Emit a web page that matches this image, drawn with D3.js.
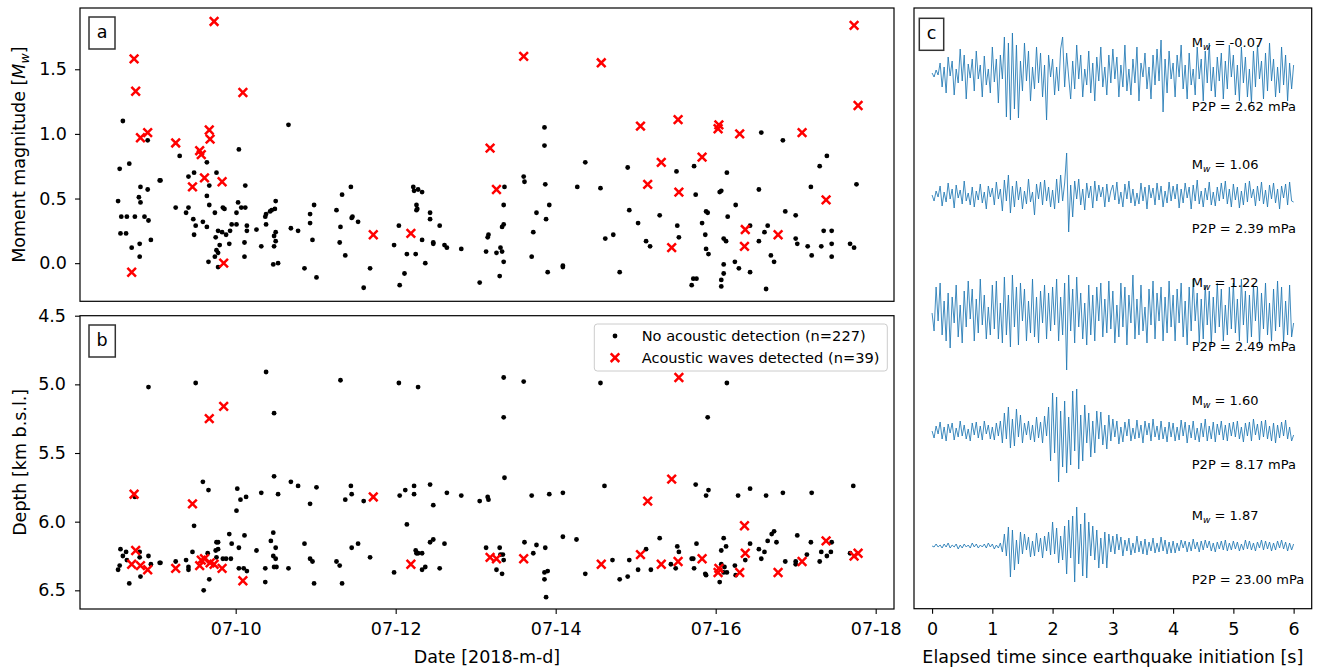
<!DOCTYPE html>
<html>
<head>
<meta charset="utf-8">
<script src="https://cdn.jsdelivr.net/npm/d3@7/dist/d3.min.js"></script>
<style>
body { margin: 0; background: #fff; }
svg { display: block; font-family: "DejaVu Sans", sans-serif; }
</style>
</head>
<body>
<div id="chart"></div>
<script>
// Times are decimal days of July 2018 (e.g. 9.5 = 07-09 12:00)

// events without acoustic detection
var magDay = [8.59,8.55,8.67,8.53,8.57,8.64,8.56,8.63,8.70,8.74,8.81,8.79,8.81,8.86,8.91,8.90,8.94,8.80,8.80,8.90,
  9.05,9.06,9.25,9.30,9.38,9.41,9.41,9.48,9.47,9.50,9.48,9.59,9.64,9.64,9.64,9.67,9.67,9.76,9.74,9.84,
  9.86,9.78,9.75,9.80,9.76,9.78,9.74,9.66,9.78,9.83,9.88,9.93,9.92,9.95,10.01,10.01,10.03,10.07,10.12,10.12,
  10.04,10.14,10.14,10.11,10.11,10.26,10.32,10.38,10.37,10.38,10.43,10.45,10.49,10.50,10.48,10.50,10.50,10.48,10.47,10.53,
  10.66,10.69,10.78,10.86,10.93,10.93,10.98,10.96,11.01,11.26,11.33,11.31,11.30,11.37,11.44,11.45,11.46,11.53,
  11.68,11.60,12.04,11.98,12.14,12.11,12.05,12.22,12.23,12.28,12.33,12.26,12.27,12.26,12.25,12.33,12.37,12.43,12.43,12.47,
  12.47,12.55,12.61,12.64,12.82,13.05,13.13,13.15,13.16,13.26,13.31,13.33,13.30,13.35,13.33,13.35,13.35,13.36,13.60,13.61,
  13.72,13.76,13.70,13.86,13.86,13.87,13.92,13.88,13.90,14.09,14.09,14.27,14.37,14.56,14.62,14.72,
  14.80,14.90,14.92,15.03,15.13,15.18,15.30,15.51,15.52,15.54,15.73,15.75,15.70,15.72,15.76,15.83,15.87,15.88,15.90,15.88,
  15.91,16.05,16.07,16.14,16.15,16.10,16.13,16.10,16.10,16.07,16.07,16.25,16.24,16.29,16.43,16.43,16.54,16.57,16.54,16.61,
  16.65,16.69,16.73,16.63,16.84,16.87,17.00,17.00,17.02,17.15,17.20,17.19,17.30,17.39,17.32,17.35,17.45,17.45,17.45,17.68,
  17.73,17.76];
var magValue = [1.10,0.73,0.77,0.48,0.36,0.36,0.23,0.23,0.12,0.36,0.59,0.51,0.47,0.36,0.33,0.57,0.18,0.15,0.05,0.95,
  0.64,0.64,0.43,0.83,0.39,0.43,0.67,0.70,0.34,0.29,0.22,0.32,0.28,0.52,0.78,0.60,0.45,0.70,0.39,0.43,
  0.42,0.25,0.20,0.14,0.10,0.08,0.05,0.01,-0.03,0.24,0.22,0.25,0.15,0.30,0.30,0.39,0.47,0.43,0.43,0.60,
  0.88,0.29,0.25,0.16,0.05,0.26,0.13,0.30,0.36,0.38,0.40,0.41,0.42,0.48,0.21,0.24,0.17,0.13,-0.01,0.00,
  1.07,0.27,0.25,-0.04,0.38,0.31,0.45,0.18,-0.11,0.41,0.53,0.28,0.16,0.06,0.59,0.35,0.36,0.32,
  -0.04,-0.19,0.29,0.14,0.07,-0.08,-0.17,0.59,0.56,0.57,0.55,0.45,0.42,0.41,0.07,0.18,0.00,0.39,0.34,0.16,
  0.15,0.29,0.14,0.12,0.11,-0.15,0.09,0.20,0.22,0.08,0.12,0.09,-0.10,0.01,0.28,0.30,0.45,0.59,0.67,0.63,
  0.24,0.39,0.05,1.05,0.91,0.61,0.45,0.34,-0.07,-0.02,-0.03,0.59,0.78,0.58,0.19,0.22,
  -0.07,0.74,0.41,0.31,0.17,0.13,0.37,0.71,0.29,0.20,0.75,0.53,-0.17,-0.12,-0.12,0.31,0.22,0.40,0.39,0.11,
  0.07,0.55,0.56,0.70,0.36,0.19,0.17,-0.01,-0.08,-0.13,-0.18,0.45,0.01,-0.04,0.29,-0.07,0.57,1.01,0.17,0.24,
  0.29,0.06,0.01,-0.20,0.95,0.40,0.37,0.19,0.15,0.13,0.06,0.59,0.75,0.83,0.13,0.25,0.25,0.15,0.05,0.15,
  0.12,0.61];

// events without acoustic detection
var depthDay = [8.91,9.50,10.38,10.48,11.31,8.74,9.59,9.66,9.48,10.02,10.01,10.06,10.13,10.32,10.48,10.53,10.69,10.78,10.93,11.01,
  11.37,11.45,11.44,8.56,8.63,8.59,8.55,8.53,8.64,8.67,8.80,8.80,8.81,8.91,8.94,9.05,9.06,9.25,9.38,9.41,
  9.41,9.46,9.60,9.67,9.65,9.76,9.78,9.78,9.75,9.76,9.84,9.88,9.94,9.92,9.95,10.04,10.11,10.04,10.10,10.14,
  10.26,10.37,10.37,10.44,10.47,10.50,10.47,10.50,10.48,10.51,10.66,10.86,10.93,10.96,10.98,11.26,11.30,11.33,11.45,11.53,
  12.04,12.28,13.35,13.60,14.56,13.35,13.36,11.60,12.05,12.12,12.23,12.23,12.43,12.47,12.64,12.82,13.05,13.15,13.16,13.70,
  13.92,14.09,14.61,12.14,11.68,11.98,12.25,12.26,12.28,12.33,12.33,12.37,12.43,12.47,12.55,12.61,13.13,13.30,13.31,13.34,
  13.35,13.26,13.33,13.61,13.76,13.72,13.87,13.86,13.90,13.86,13.88,14.09,14.26,14.37,14.71,
  16.14,15.90,15.75,15.91,15.88,16.28,16.43,16.63,16.84,17.20,17.72,14.80,14.90,14.92,15.03,15.13,15.19,15.30,15.44,15.50,
  15.52,15.54,15.70,15.72,15.73,15.76,15.87,15.88,16.07,16.10,16.13,16.07,16.11,16.10,16.14,16.05,16.24,16.25,16.37,16.43,
  16.54,16.61,16.57,16.65,16.70,16.73,16.76,16.87,17.00,17.00,17.02,17.14,17.19,17.30,17.32,17.39,17.44,17.45,17.68];
var depthValue = [5.02,4.99,4.91,5.21,4.97,5.82,5.71,5.77,6.03,5.76,5.92,5.84,5.82,5.79,5.67,5.80,5.71,5.74,5.87,5.75,
  5.84,5.80,5.74,6.20,6.22,6.25,6.32,6.35,6.28,6.45,6.26,6.22,6.40,6.25,6.31,6.30,6.30,6.29,6.28,6.33,
  6.35,6.22,6.50,6.42,6.23,6.15,6.15,6.20,6.21,6.26,6.27,6.27,6.27,6.09,6.16,6.19,6.10,6.34,6.34,6.36,
  6.21,6.34,6.44,6.14,6.08,6.19,6.25,6.27,6.33,6.33,6.34,6.16,6.27,6.29,6.45,6.29,6.32,6.45,6.19,6.16,
  4.99,5.02,4.95,4.98,4.99,5.24,5.68,5.85,5.81,5.77,5.74,5.80,5.73,5.88,5.79,5.81,5.85,5.82,5.84,5.81,
  5.80,5.79,5.74,6.02,6.26,6.37,6.21,6.23,6.23,6.23,6.35,6.33,6.15,6.13,6.34,6.16,6.19,6.19,6.24,6.24,
  6.28,6.35,6.38,6.15,6.17,6.23,6.19,6.37,6.36,6.42,6.55,6.11,6.13,6.38,6.28,
  4.99,5.24,5.73,5.77,5.81,5.81,5.76,5.81,5.79,5.79,5.74,6.42,6.40,6.28,6.35,6.20,6.35,6.12,6.31,6.34,
  6.18,6.22,6.27,6.27,6.34,6.16,6.38,6.39,6.21,6.12,6.18,6.31,6.33,6.37,6.37,6.44,6.32,6.39,6.28,6.16,
  6.20,6.22,6.27,6.14,6.09,6.07,6.15,6.29,6.29,6.31,6.10,6.24,6.15,6.29,6.22,6.25,6.22,6.15,6.23];

// events with acoustic waves detected
var acDay = [9.73,8.73,8.75,10.09,8.90,8.81,9.67,9.68,9.25,9.55,9.57,9.61,9.83,9.46,9.85,8.70,11.72,12.19,13.18,13.26,
  13.60,14.57,15.06,15.53,16.04,16.03,16.30,17.08,17.73,17.78,15.32,15.83,15.15,15.54,17.38,16.37,16.78,15.45,16.36];
var acMag = [1.87,1.58,1.33,1.32,1.01,0.97,1.03,0.96,0.93,0.87,0.84,0.66,0.63,0.59,0.00,-0.07,0.22,0.23,0.89,0.57,
  1.60,1.55,1.06,1.11,1.07,1.04,1.00,1.01,1.84,1.22,0.78,0.82,0.61,0.55,0.49,0.26,0.22,0.12,0.13];
var acDepth = [6.31,5.80,6.21,6.43,6.35,6.32,5.25,6.30,6.34,6.32,6.28,6.27,6.34,5.87,5.16,6.31,5.82,6.31,6.26,6.27,
  6.27,6.31,6.24,6.29,6.34,6.37,6.37,6.29,6.25,6.23,6.31,6.27,5.85,4.95,6.14,6.23,6.37,5.69,6.03];

var magTicks = [0, 0.5, 1.0, 1.5];
var depthTicks = [4.5, 5.0, 5.5, 6.0, 6.5];
var dateTicks = [10, 12, 14, 16, 18];
var timeTicks = [0, 1, 2, 3, 4, 5, 6];

// panel c: pressure traces, 30 samples per second over 0-6 s (counts, up positive)
var traceMw = ["-0.07", "1.06", "1.22", "1.60", "1.87"];
var traceP2P = ["2.62", "2.39", "2.49", "8.17", "23.00"];
var traceOffsets = [0, -122, -240, -358, -473];
var traces = [
  [0,-4,3,-2,10,-14,6,-20,16,-3,12,-22,4,-10,24,-8,18,-26,9,-5,14,-18,22,-6,8,-24,17,-12,4,-20,
   26,-9,14,-30,18,-6,36,-44,30,-47,40,-36,28,-45,12,-18,30,-8,22,-28,6,-16,26,-10,20,-24,8,-47,18,-4,
   14,-22,6,-18,24,36,-14,20,-4,-26,12,-16,28,-6,18,-24,4,-12,22,-20,10,-28,16,-8,26,-14,6,-22,18,-10,
   24,-6,16,-24,8,-14,28,-18,4,-22,14,-10,26,-28,10,-4,20,-16,6,-26,18,-12,24,-8,33,-39,14,-20,22,-6,
   10,-24,18,-4,28,-16,8,-26,20,-12,4,-22,26,-6,14,-28,22,-10,30,-18,6,-24,16,-8,20,-26,12,-16,28,-4,
   18,-22,8,-28,26,-10,16,-24,4,-30,22,-14,28,-6,12,-26,20,-18,30,-8,14,-24,6,-20,26,-12,18,-28,10,-16,8],
  [0,-6,4,-2,9,-11,3,-7,12,-4,6,-13,10,-3,5,-9,14,-6,2,-10,8,-12,4,-5,11,-8,3,-14,9,-2,
   7,-10,13,-4,6,-16,15,-6,20,-18,9,-12,14,-5,8,-14,4,-9,16,-7,3,-20,11,-4,13,-10,15,-6,8,-12,
   5,-14,16,-8,20,-6,12,42,-37,10,-22,14,-4,16,-10,6,-15,12,-3,9,-13,14,-6,10,-2,8,-12,11,-7,4,
   10,-5,13,-9,3,-12,11,-4,14,-8,6,-11,2,-9,12,-6,8,-14,10,-3,7,-10,12,-5,9,-12,4,-8,13,-6,
   9,-4,11,-13,6,-8,12,-3,8,-14,10,-6,15,-9,4,-12,7,-5,13,-10,3,-11,8,-6,12,-4,14,-9,6,-12,
   11,-5,8,-13,4,-10,12,-7,14,-3,6,-11,9,-6,13,-9,5,-12,10,-4,12,-8,6,-14,9,-3,11,-10,13,-6,-7],
  [0,-18,26,-8,30,-22,12,-28,20,-35,16,-10,28,-24,8,-30,22,-14,32,-6,24,-28,14,-20,34,-12,18,-26,6,-22,
   28,-16,32,-26,10,-30,36,-22,18,-34,38,-14,26,-32,30,-8,24,-28,12,-20,34,-24,16,-30,22,-10,28,-26,20,-18,
   26,-12,34,-28,16,-22,30,-57,38,-18,24,-30,36,-14,20,-26,10,-32,28,-22,18,-28,26,-8,30,-24,14,-20,32,-16,
   22,-30,8,-24,30,-14,26,-32,18,-10,38,-26,14,-22,28,-18,6,-30,24,-12,32,-26,20,-8,26,-28,16,-20,32,-14,
   18,-28,24,-10,30,-24,12,-32,26,-18,34,-8,20,-30,14,-26,28,-12,22,-32,16,-20,30,-14,24,-28,8,-22,26,-16,
   30,-20,14,-28,34,-12,22,-30,18,-24,28,-8,26,-32,20,-16,30,-22,10,-28,24,-18,32,-14,26,-30,12,-22,28,-24,-10],
  [0,-7,5,-3,9,-8,4,-10,7,-2,8,-9,3,-6,10,-5,6,-8,2,-10,8,-4,9,-7,5,-9,10,-3,6,-8,
   4,-9,8,-5,10,-12,18,-8,24,-17,12,-15,22,-6,16,-12,8,-4,10,-9,6,-11,14,-7,9,-12,15,-5,24,-30,
   38,-22,34,-51,20,-36,30,-42,14,-34,40,-20,42,-38,16,-30,26,-12,18,-26,10,-22,20,-8,19,-14,6,-18,16,-10,
   12,-6,10,-13,4,-11,9,-5,12,-10,3,-8,11,-7,6,-12,10,-4,8,-10,12,-6,5,-9,10,-8,4,-11,9,-6,
   8,-10,4,-9,11,-5,9,-12,6,-7,10,-9,3,-11,8,-6,12,-10,5,-8,9,-11,7,-4,10,-9,6,-10,8,-5,
   9,-6,10,-8,4,-11,8,-5,9,-10,12,-4,7,-9,10,-6,11,-8,5,-10,8,-12,6,-7,9,-5,11,-8,4,-10,-4],
  [0,-1,2,-1,1,-2,2,-1,3,-2,1,-1,2,-3,1,-2,2,-1,1,-2,3,-1,2,-2,1,-1,2,-2,3,-1,
   2,-3,1,-2,3,-6,12,-10,19,-31,16,-24,6,-18,14,-8,12,-4,9,-11,5,-10,13,-6,8,-12,10,-5,14,-9,
   24,-8,18,-17,10,-14,20,-28,26,-12,30,-36,39,-18,22,-30,33,-32,24,-10,20,-14,16,-22,8,-18,14,-22,12,-6,
   10,-8,12,-4,9,-10,6,-5,8,-9,3,-7,10,-6,5,-8,7,-9,4,-5,8,-7,3,-6,9,-5,6,-8,4,-7,
   5,-7,3,-5,6,-2,5,-6,4,-5,7,-3,4,-6,5,-4,6,-2,5,-5,3,-6,4,-3,5,-4,6,-5,3,-4,
   5,-3,4,-5,2,-4,6,-3,5,-4,3,-5,4,-2,6,-4,5,-3,4,-5,3,-4,5,-2,6,-3,4,-5,3,-4,2]
];

function dayToDate(d) { return new Date(Date.UTC(2018, 6, 1) + (d - 1) * 864e5); }

var W = 1325, H = 668;
var FS = 17.5;
var svg = d3.select("#chart").append("svg").attr("width", W).attr("height", H);
svg.append("rect").attr("width", W).attr("height", H).attr("fill", "#fff");

// layout of the three axes
var pa = {l: 80, r: 894, t: 8, b: 301.3};
var pb = {l: 80, r: 894, t: 315.7, b: 609};
var pc = {l: 914, r: 1311.7, t: 8, b: 608.7};

var x = d3.scaleUtc().domain([dayToDate(8.054), dayToDate(18.229)]).range([pa.l, pa.r]);
var yMag = d3.scaleLinear().domain([-0.295, 1.974]).range([pa.b, pa.t]);
var yDepth = d3.scaleLinear().domain([4.5, 6.636]).range([pb.t, pb.b]);
var xC = d3.scaleLinear().domain([-0.3, 6.3]).range([pc.l, pc.r]);
var yC = d3.scaleLinear().domain([-535.7, 65]).range([pc.b, pc.t]);

function styleAxis(g) {
	g.select(".domain").remove();
	g.selectAll(".tick line").attr("stroke", "#000").attr("stroke-width", 1.1);
	g.selectAll(".tick text").attr("font-size", FS).attr("font-family", "DejaVu Sans").attr("fill", "#000");
}

svg.append("g").attr("transform", "translate(" + pa.l + ",0)")
	.call(d3.axisLeft(yMag).tickValues(magTicks).tickFormat(d3.format(".1f")).tickSize(5).tickPadding(8))
	.call(styleAxis);
svg.append("g").attr("transform", "translate(" + pb.l + ",0)")
	.call(d3.axisLeft(yDepth).tickValues(depthTicks).tickFormat(d3.format(".1f")).tickSize(5).tickPadding(9))
	.call(styleAxis);
svg.append("g").attr("transform", "translate(0," + pb.b + ")")
	.call(d3.axisBottom(x).tickValues(dateTicks.map(dayToDate)).tickFormat(d3.utcFormat("%m-%d")).tickSize(5).tickPadding(9))
	.call(styleAxis);
svg.append("g").attr("transform", "translate(0," + pc.b + ")")
	.call(d3.axisBottom(xC).tickValues(timeTicks).tickFormat(d3.format("d")).tickSize(5).tickPadding(9))
	.call(styleAxis);

function crossPath(s) { return "M" + (-s) + "," + (-s) + "L" + s + "," + s + "M" + (-s) + "," + s + "L" + s + "," + (-s); }

// panel a
var ga = svg.append("g");
ga.selectAll(".dot").data(magDay).enter().append("circle")
	.attr("cx", function(d) { return x(dayToDate(d)); })
	.attr("cy", function(d, i) { return yMag(magValue[i]); })
	.attr("r", 2.4).attr("fill", "#000");
ga.selectAll(".cross").data(acDay).enter().append("path")
	.attr("d", crossPath(4.3))
	.attr("transform", function(d, i) { return "translate(" + x(dayToDate(d)) + "," + yMag(acMag[i]) + ")"; })
	.attr("stroke", "#ff0000").attr("stroke-width", 2.5).attr("fill", "none");

// panel b
var gb = svg.append("g");
gb.selectAll(".dot").data(depthDay).enter().append("circle")
	.attr("cx", function(d) { return x(dayToDate(d)); })
	.attr("cy", function(d, i) { return yDepth(depthValue[i]); })
	.attr("r", 2.4).attr("fill", "#000");
gb.selectAll(".cross").data(acDay).enter().append("path")
	.attr("d", crossPath(4.3))
	.attr("transform", function(d, i) { return "translate(" + x(dayToDate(d)) + "," + yDepth(acDepth[i]) + ")"; })
	.attr("stroke", "#ff0000").attr("stroke-width", 2.5).attr("fill", "none");

// panel c
var line = d3.line()
	.x(function(v, k, arr) { return xC(k * 6 / (arr.length - 1)); });
var gc = svg.append("g");
traces.forEach(function(tr, i) {
	gc.append("path")
		.attr("d", line.y(function(v) { return yC(traceOffsets[i] + v); })(tr))
		.attr("fill", "none").attr("stroke", "#1f77b4").attr("stroke-width", 0.85)
		.attr("stroke-linejoin", "round");

	var t1 = gc.append("text").attr("x", xC(4.31)).attr("y", yC(traceOffsets[i] + 31)).attr("dy", "0.36em")
		.attr("font-size", 13);
	t1.append("tspan").text("M");
	t1.append("tspan").attr("dy", 3).attr("font-size", 9).attr("font-style", "italic").text("w");
	t1.append("tspan").attr("dy", -3).text(" = " + traceMw[i]);

	gc.append("text").attr("x", xC(4.31)).attr("y", yC(traceOffsets[i] - 33)).attr("dy", "0.36em")
		.attr("font-size", 13).text("P2P = " + traceP2P[i] + " mPa");
});

// frames
[pa, pb, pc].forEach(function(p) {
	svg.append("rect").attr("x", p.l).attr("y", p.t).attr("width", p.r - p.l).attr("height", p.b - p.t)
		.attr("fill", "none").attr("stroke", "#000").attr("stroke-width", 1.2);
});

// panel letters
[["a", 89, 17, 26], ["b", 89, 325, 26.3], ["c", 919.3, 18.3, 24.4]].forEach(function(p) {
	svg.append("rect").attr("x", p[1]).attr("y", p[2]).attr("width", p[3]).attr("height", 32)
		.attr("fill", "#fff").attr("stroke", "#333").attr("stroke-width", 1.5);
	svg.append("text").attr("x", p[1] + p[3] / 2).attr("y", p[2] + 21).attr("text-anchor", "middle")
		.attr("font-size", FS).text(p[0]);
});

// legend
var lg = svg.append("g");
lg.append("rect").attr("x", 594.3).attr("y", 324).attr("width", 293).attr("height", 47).attr("rx", 3)
	.attr("fill", "#fff").attr("fill-opacity", 0.8).attr("stroke", "#ccc").attr("stroke-width", 1);
lg.append("circle").attr("cx", 615).attr("cy", 336).attr("r", 2.4).attr("fill", "#000");
lg.append("path").attr("d", crossPath(4.3)).attr("transform", "translate(615,357.7)")
	.attr("stroke", "#ff0000").attr("stroke-width", 2.5);
lg.append("text").attr("x", 641.7).attr("y", 341).attr("font-size", 14.6).text("No acoustic detection (n=227)");
lg.append("text").attr("x", 641.7).attr("y", 362.5).attr("font-size", 14.6).text("Acoustic waves detected (n=39)");

// axis labels
var ylA = svg.append("text").attr("transform", "translate(25," + ((pa.t + pa.b) / 2) + ") rotate(-90)")
	.attr("text-anchor", "middle").attr("font-size", FS);
ylA.append("tspan").text("Moment magnitude [");
ylA.append("tspan").attr("font-style", "italic").text("M");
ylA.append("tspan").attr("font-style", "italic").attr("font-size", 12.5).attr("dy", 4).text("w");
ylA.append("tspan").attr("dy", -4).text("]");

svg.append("text").attr("transform", "translate(26," + ((pb.t + pb.b) / 2) + ") rotate(-90)")
	.attr("text-anchor", "middle").attr("font-size", FS).text("Depth [km b.s.l.]");
svg.append("text").attr("x", (pa.l + pa.r) / 2).attr("y", 663).attr("text-anchor", "middle")
	.attr("font-size", FS).text("Date [2018-m-d]");
svg.append("text").attr("x", (pc.l + pc.r) / 2).attr("y", 663).attr("text-anchor", "middle")
	.attr("font-size", FS).text("Elapsed time since earthquake initiation [s]");
</script>
</body>
</html>
